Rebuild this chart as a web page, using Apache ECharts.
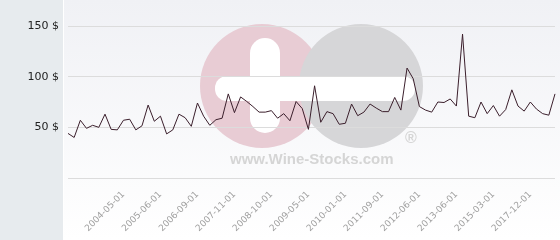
<!DOCTYPE html>
<html><head><meta charset="utf-8">
<script src="https://cdn.jsdelivr.net/npm/echarts@6/dist/echarts.min.js"></script>
<style>html,body{margin:0;padding:0;background:#fff}#c{width:560px;height:240px}</style>
</head><body><div id="c"></div>
<script>
// Price series (one point per listed auction date)
const values = [44,40,57,49,52,50,63,48,47.5,57, 58,47.5,51.5,72,56,61,43.5,47.5,63,59.5,
  51,74,61,52,57.5,59,83,64.5,80,75.5, 70.5,65,65,66.5,59,63.5,56.5,75.5,68.5,48,
  91,55,65.5,63.5,53,54,73,61.5,65,73, 69,65.5,65.5,79.5,67,108.5,98,70.5,67,65,
  75,74.5,78,71,142,61,59.5,75,63.5,71.5, 61,67.5,87,71,66,75,68,63.5,62,83];
// Visible x tick labels
const tickLabels = ['2004-05-01','2005-06-01','2006-09-01','2007-11-01','2008-10-01','2009-05-01',
  '2010-01-01','2011-09-01','2012-06-01','2013-06-01','2015-03-01','2017-12-01'];
const firstLabelIndex = 9, labelStep = 6;
const categories = values.map((_, i) => {
  const k = (i - firstLabelIndex) / labelStep;
  return (Number.isInteger(k) && k >= 0 && k < tickLabels.length) ? tickLabels[k] : '';
});

const chart = echarts.init(document.getElementById('c'), null, {renderer: 'canvas'});
chart.setOption({
  animation: false,
  backgroundColor: '#ffffff',
  graphic: [
    {type: 'rect', z: -10, shape: {x: 0, y: 0, width: 63, height: 240}, style: {fill: '#e7ebee'}, silent: true},
    {type: 'rect', z: -10, shape: {x: 64, y: 0, width: 496, height: 240}, silent: true,
      style: {fill: new echarts.graphic.LinearGradient(0, 0, 0, 1, [{offset: 0, color: '#f0f1f5'}, {offset: 1, color: '#ffffff'}])}},
    {type: 'circle', z: -5, shape: {cx: 262, cy: 86, r: 62}, style: {fill: '#e8ccd4'}, silent: true},
    {type: 'circle', z: -5, shape: {cx: 361, cy: 86, r: 62}, style: {fill: '#d6d6d8'}, silent: true},
    {type: 'rect', z: -4, shape: {x: 250, y: 38, width: 30, height: 95, r: 15}, style: {fill: '#ffffff'}, silent: true},
    {type: 'rect', z: -4, shape: {x: 215, y: 76, width: 200, height: 25, r: 12}, style: {fill: '#ffffff'}, silent: true},
    {type: 'text', z: -4, x: 230, y: 152, style: {text: 'www.Wine-Stocks.com', font: 'bold 15px "Liberation Sans", Arial, sans-serif', fill: '#d5d5d5'}, silent: true},
    {type: 'text', z: -4, x: 405, y: 131, style: {text: '®', font: 'bold 16px "Liberation Sans", Arial, sans-serif', fill: '#d5d5d5'}, silent: true}
  ],
  grid: {left: 68, right: 5, top: 26, bottom: 62, containLabel: false},
  xAxis: {
    type: 'category', data: categories, boundaryGap: false,
    axisLine: {show: false}, axisTick: {show: false},
    axisLabel: {interval: (i, v) => v !== '', rotate: 45, margin: 15, color: '#a0a0a0',
      fontSize: 9, fontFamily: '"DejaVu Sans", sans-serif'},
    splitLine: {show: false}
  },
  yAxis: {
    type: 'value', min: 0, max: 150, interval: 50,
    axisLine: {show: false}, axisTick: {show: false},
    axisLabel: {showMinLabel: false, formatter: v => v + ' $', margin: 9, color: '#222',
      fontSize: 11, fontFamily: '"DejaVu Sans", sans-serif'},
    splitLine: {lineStyle: {color: '#dcdcdc', width: 1}}
  },
  series: [{
    type: 'line', data: values, symbol: 'none', z: 5,
    lineStyle: {color: '#3b1f2c', width: 1}
  }]
});
</script></body></html>
